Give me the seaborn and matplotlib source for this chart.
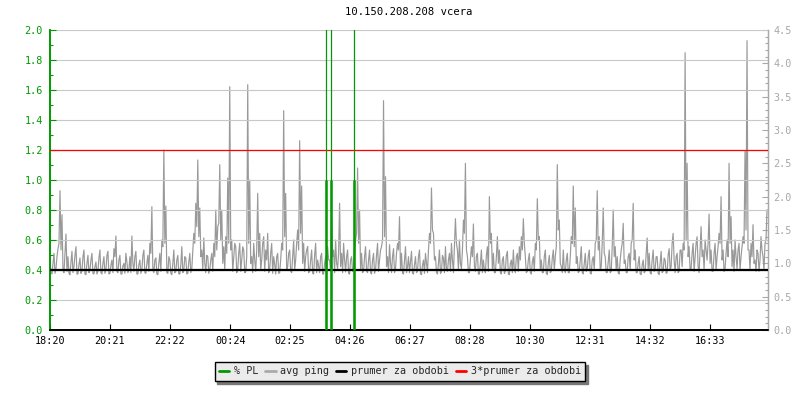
import numpy as np
import pandas as pd
import matplotlib
matplotlib.use("Agg")
import matplotlib.pyplot as plt
from matplotlib.ticker import MultipleLocator, FixedLocator
from matplotlib.lines import Line2D
import seaborn as sns

# ---------------- data ----------------
title = "10.150.208.208 vcera"
tick_labels = ["18:20", "20:21", "22:22", "00:24", "02:25", "04:26",
               "06:27", "08:28", "10:30", "12:31", "14:32", "16:33"]
tick_minutes = [0, 121, 242, 364, 485, 606, 727, 848, 970, 1091, 1212, 1333]
sample_step_min = 2.0172   # minutes between samples

avg_ping = [
    1.05, 0.86, 0.84, 1.0, 1.15, 0.85, 0.92, 1.1, 1.22, 1.3, 2.09, 1.2, 1.73, 0.9, 0.86, 1.15, 1.44, 0.88, 1.1, 0.85,
    0.83, 1.02, 1.18, 0.86, 0.95, 1.12, 1.25, 0.84, 0.84, 0.98, 1.08, 0.85, 0.88, 1.1, 1.2, 0.84, 0.83, 1.0, 1.12, 0.86,
    0.9, 1.05, 1.15, 0.85, 0.84, 0.95, 1.02, 0.84, 0.88, 1.08, 1.2, 0.86, 0.84, 1.0, 1.1, 0.85, 0.9, 1.12, 1.18, 0.84,
    0.85, 0.97, 1.05, 0.86, 1.22, 1.1, 1.41, 0.88, 0.86, 1.05, 1.12, 0.84, 0.84, 0.96, 1.0, 0.85, 1.15, 1.02, 0.86, 0.9,
    1.1, 0.86, 1.41, 1.0, 0.88, 1.1, 1.18, 0.84, 0.84, 0.98, 1.05, 0.85, 0.9, 1.12, 1.2, 0.86, 0.85, 1.0, 1.12, 0.88,
    1.3, 1.15, 1.85, 0.9, 0.86, 1.05, 1.08, 0.84, 0.83, 1.0, 1.15, 0.88, 1.35, 1.25, 2.7, 1.3, 1.86, 0.86, 0.85, 1.1,
    1.05, 0.85, 0.83, 1.0, 1.2, 0.86, 0.88, 1.05, 1.12, 0.84, 0.84, 0.98, 1.25, 0.86, 0.9, 1.1, 1.08, 0.84, 0.85, 1.02,
    1.15, 0.86, 0.92, 1.2, 1.45, 1.3, 1.9, 1.55, 2.55, 1.4, 1.83, 1.1, 1.2, 0.9, 1.38, 1.0, 0.86, 1.12, 1.1, 0.85,
    0.9, 1.05, 1.15, 0.88, 1.3, 1.1, 1.8, 1.2, 1.55, 1.6, 2.48, 1.35, 1.8, 1.0, 1.25, 0.9, 1.4, 1.15, 2.28, 1.3,
    3.65, 1.2, 1.35, 0.88, 1.1, 1.3, 1.25, 0.86, 0.92, 1.15, 1.3, 0.88, 1.05, 1.25, 1.2, 0.86, 0.87, 1.1, 3.68, 1.3,
    2.25, 1.0, 1.1, 0.86, 1.3, 1.05, 0.88, 1.2, 2.05, 1.1, 1.45, 0.9, 1.05, 1.3, 1.4, 0.88, 1.2, 1.05, 1.45, 0.86,
    0.9, 1.15, 1.3, 0.85, 1.1, 0.98, 0.84, 1.1, 1.15, 0.85, 0.86, 1.05, 1.3, 1.2, 3.29, 1.4, 2.05, 0.9, 0.95, 1.15,
    1.2, 0.88, 0.86, 1.1, 1.35, 0.9, 1.05, 1.3, 1.5, 1.2, 2.84, 1.45, 2.16, 1.0, 1.3, 0.88, 1.1, 1.2, 1.25, 0.86,
    0.88, 1.05, 1.2, 0.85, 0.84, 1.12, 1.3, 0.86, 1.05, 0.95, 0.86, 1.1, 1.15, 0.84, 0.84, 1.0, 1.1, 0.88, 1.25, 1.05,
    1.05, 0.88, 1.7, 1.1, 1.2, 0.86, 1.35, 1.0, 0.92, 1.15, 1.9, 0.95, 1.15, 0.86, 1.3, 1.05, 0.87, 1.1, 1.2, 0.85,
    0.84, 1.05, 1.1, 0.88, 0.92, 1.2, 1.35, 1.45, 2.43, 1.3, 1.8, 0.9, 1.15, 0.86, 0.88, 1.1, 1.25, 0.88, 0.86, 1.05,
    1.2, 0.86, 0.84, 1.05, 1.15, 0.85, 0.9, 1.12, 1.3, 0.88, 1.05, 1.2, 1.25, 1.35, 3.44, 1.4, 2.3, 0.95, 1.1, 0.86,
    1.28, 1.0, 0.86, 1.1, 1.22, 0.86, 0.92, 1.15, 1.3, 1.2, 1.7, 0.9, 1.15, 0.85, 0.84, 1.05, 1.25, 0.86, 0.95, 1.1,
    0.86, 1.02, 1.18, 0.85, 0.84, 0.98, 1.1, 0.86, 0.88, 1.1, 1.2, 0.84, 0.83, 0.97, 1.05, 0.85, 1.15, 1.0, 0.86, 1.2,
    1.45, 1.3, 2.13, 1.5, 1.45, 1.05, 1.1, 0.86, 0.84, 1.0, 1.2, 0.85, 0.87, 1.12, 1.08, 0.86, 1.25, 0.9, 0.88, 1.05,
    1.15, 0.88, 1.3, 1.05, 0.86, 1.25, 1.67, 1.3, 1.2, 0.9, 1.35, 1.0, 0.92, 1.2, 1.65, 1.45, 2.5, 1.2, 1.1, 0.86,
    0.86, 1.05, 1.25, 1.1, 1.59, 0.95, 0.88, 1.1, 1.15, 0.84, 0.84, 1.0, 1.2, 0.86, 1.05, 0.9, 0.86, 1.12, 1.25, 0.88,
    2.0, 1.3, 1.45, 0.9, 1.15, 0.86, 0.86, 1.1, 1.4, 1.0, 1.2, 0.86, 0.84, 1.05, 1.1, 0.85, 0.88, 1.12, 1.18, 0.84,
    0.83, 1.0, 1.05, 0.86, 1.2, 0.9, 0.86, 1.1, 1.15, 0.88, 1.25, 1.05, 1.4, 1.2, 1.67, 1.3, 1.1, 0.86, 0.88, 1.05,
    1.15, 0.86, 0.84, 1.02, 1.1, 0.88, 1.3, 1.2, 1.97, 1.35, 1.4, 0.9, 1.05, 0.86, 0.86, 1.1, 1.2, 0.85, 0.83, 1.0,
    1.12, 0.86, 0.88, 1.08, 1.2, 0.9, 1.1, 1.25, 2.48, 1.5, 1.65, 1.0, 0.95, 0.86, 1.2, 0.9, 0.86, 1.05, 1.15, 0.86,
    0.86, 1.1, 1.4, 1.3, 2.16, 1.25, 1.83, 1.0, 1.1, 0.86, 0.88, 1.05, 1.25, 0.86, 0.84, 1.0, 1.15, 0.88, 0.92, 1.1,
    1.2, 0.85, 0.84, 1.05, 1.1, 0.9, 1.3, 1.35, 2.09, 1.2, 1.4, 0.9, 0.95, 1.3, 1.83, 1.15, 1.1, 0.86, 0.86, 1.02,
    1.2, 0.86, 0.88, 1.25, 1.8, 1.1, 1.25, 0.9, 1.1, 0.86, 0.84, 1.05, 1.2, 1.3, 1.6, 1.0, 1.05, 0.86, 0.86, 1.1,
    1.15, 0.9, 1.3, 1.35, 1.9, 1.05, 1.2, 0.86, 0.86, 1.0, 1.1, 0.84, 0.83, 0.97, 1.05, 0.86, 0.88, 1.15, 1.38, 0.9,
    1.15, 0.86, 0.84, 1.05, 1.2, 0.88, 0.92, 1.1, 1.1, 0.85, 0.83, 1.0, 1.18, 0.86, 0.88, 1.08, 1.05, 0.85, 0.86, 1.12,
    1.22, 0.9, 0.95, 1.3, 1.45, 1.05, 0.86, 1.1, 1.15, 0.86, 0.88, 1.2, 1.2, 0.95, 1.3, 1.2, 4.16, 1.35, 2.5, 1.1,
    1.25, 0.9, 0.92, 1.15, 1.3, 0.88, 1.1, 1.3, 1.4, 0.95, 0.86, 1.2, 1.55, 1.1, 1.2, 0.9, 1.35, 1.2, 1.05, 1.3,
    1.74, 1.0, 1.2, 0.88, 0.88, 1.15, 1.3, 0.9, 1.1, 1.25, 1.45, 1.3, 2.0, 1.05, 1.2, 0.88, 0.92, 1.15, 1.35, 1.1,
    2.5, 1.3, 1.7, 0.95, 1.2, 0.88, 1.35, 1.1, 0.92, 1.2, 1.3, 0.9, 1.1, 1.25, 1.4, 1.3, 2.69, 1.5, 4.34, 1.2,
    1.2, 0.9, 1.3, 1.1, 1.58, 1.0, 1.05, 0.88, 1.2, 1.15, 0.88, 1.05, 1.4, 1.2, 1.1, 0.9, 1.3, 1.35, 1.8, 1.8,
]

# packet loss events (minutes since 18:20), peak value and sustained level
pl_minutes = [558, 568, 615]
pl_peak = [100.0, 100.0, 100.0]
pl_level = [1.0, 1.0, 1.0]

prumer = 0.4          # average (left axis units)
prumer3 = 1.2         # 3 * average

# ---------------- style ----------------
sns.set_theme(style="white")
plt.rcParams["font.family"] = ["DejaVu Sans Mono"]
FS = 7.3
GREEN = "#009900"
GRAY = "#999999"
AXGRAY = "#a8a8a8"

t = np.arange(len(avg_ping)) * sample_step_min
df = pd.DataFrame({"t": t, "ping": avg_ping})
t_end = t[-1]

fig = plt.figure(figsize=(8, 4), dpi=100)
ax = fig.add_axes([50 / 800, 70 / 400, 718 / 800, 300 / 400])
ax2 = ax.twinx()

# right axis: avg ping
sns.lineplot(data=df, x="t", y="ping", ax=ax2, color=GRAY, lw=0.85, zorder=2)
ax2.set_ylim(0, 4.5)
ax2.set_ylabel("")
ax2.yaxis.set_major_locator(MultipleLocator(0.5))
ax2.yaxis.set_minor_locator(MultipleLocator(0.1))
ax2.yaxis.set_major_formatter(matplotlib.ticker.FormatStrFormatter("%.1f"))
ax2.tick_params(axis="y", which="major", direction="in", length=4, width=0.8,
                colors=AXGRAY, labelsize=FS, pad=4, right=True)
ax2.tick_params(axis="y", which="minor", direction="in", length=2, width=0.8,
                colors=AXGRAY, right=True)

# left axis: % PL and averages
ax.set_zorder(ax2.get_zorder() + 1)
ax.patch.set_visible(False)
ax.axhline(prumer, color="black", lw=1.6, zorder=3)
ax.axhline(prumer3, color="#ff0000", lw=0.9, zorder=3)
ax.vlines(pl_minutes, 0, pl_peak, color=GREEN, lw=0.9, zorder=4)
ax.vlines(pl_minutes, 0, pl_level, color=GREEN, lw=1.8, zorder=4)
ax.set_ylim(0, 2.0)
ax.set_xlim(0, t_end)
ax.yaxis.set_major_locator(MultipleLocator(0.2))
ax.yaxis.set_minor_locator(MultipleLocator(0.1))
ax.yaxis.set_major_formatter(matplotlib.ticker.FormatStrFormatter("%.1f"))
ax.grid(axis="y", which="major", color="#c8c8c8", lw=0.8, zorder=0)
ax.grid(axis="x", visible=False)
ax.tick_params(axis="y", which="major", direction="in", length=4, width=0.8,
               colors=GREEN, labelsize=FS, pad=5, left=True)
ax.tick_params(axis="y", which="minor", direction="in", length=2.5, width=0.8,
               colors=GREEN, left=True)
ax.xaxis.set_major_locator(FixedLocator(tick_minutes))
ax.set_xticklabels(tick_labels)
ax.tick_params(axis="x", which="major", direction="in", length=4, width=0.8,
               colors="black", labelsize=FS, pad=4, bottom=True)
ax.set_xlabel("")
ax.set_ylabel("")

for a in (ax, ax2):
    a.spines["top"].set_visible(False)
    a.spines["left"].set_color(GREEN)
    a.spines["left"].set_linewidth(1.2)
    a.spines["bottom"].set_color("black")
    a.spines["bottom"].set_linewidth(1.2)
    a.spines["right"].set_color(AXGRAY)
    a.spines["right"].set_linewidth(0.9)
ax2.set_xlim(0, t_end)

ax.set_title(title, fontsize=FS + 0.3, pad=11, color="black")

handles = [Line2D([], [], color=GREEN, lw=2),
           Line2D([], [], color="#aaaaaa", lw=2),
           Line2D([], [], color="black", lw=2),
           Line2D([], [], color="#ff0000", lw=2)]
labels = ["% PL", "avg ping", "prumer za obdobi", "3*prumer za obdobi"]
leg = fig.legend(handles, labels, loc="center", bbox_to_anchor=(0.5, 1 - 371.5 / 400),
                 ncol=4, fontsize=FS, frameon=True, fancybox=False,
                 shadow={"color": "#777777", "alpha": 1.0},
                 handlelength=1.0, handletextpad=0.45, columnspacing=0.7,
                 borderpad=0.45, borderaxespad=0)
leg.get_frame().set_facecolor("#ebebeb")
leg.get_frame().set_edgecolor("black")
leg.get_frame().set_linewidth(1.0)

fig.savefig("out.png", dpi=100)
